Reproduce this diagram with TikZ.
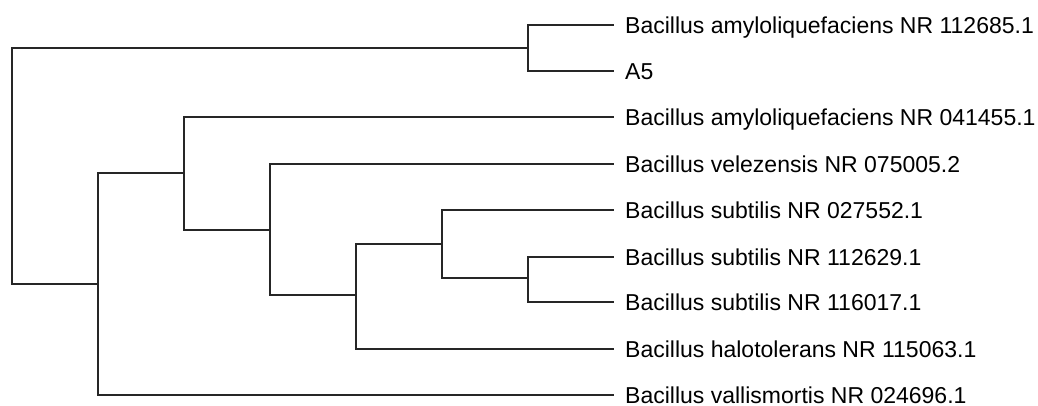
\documentclass[tikz,border=0pt]{standalone}
\usepackage{fontspec}
\setmainfont{Liberation Sans}
\usepackage{tikz}
\usetikzlibrary{positioning}
\tikzset{
x=1pt, y=-1pt, % one unit is one pixel of the figure, y runs downwards
branch/.style={line width=1.8pt, draw=black!85}, % the edges of the tree
leaf/.style={anchor=west, inner ysep=0pt, inner xsep=11pt, text height=20pt, text depth=4pt, font=\fontsize{23}{27}\selectfont}, % the taxon labels
}

\begin{document}
\begin{tikzpicture}
    \useasboundingbox (0,0) rectangle (1038,405);
    % taxa
    \node[leaf] (amyA) at (614,25) {Bacillus amyloliquefaciens NR 112685.1};
    \node[leaf] (a5) at (614,71) {A5};
    \node[leaf] (amyB) at (614,117) {Bacillus amyloliquefaciens NR 041455.1};
    \node[leaf] (vel) at (614,164) {Bacillus velezensis NR 075005.2};
    \node[leaf] (subA) at (614,210) {Bacillus subtilis NR 027552.1};
    \node[leaf] (subB) at (614,257) {Bacillus subtilis NR 112629.1};
    \node[leaf] (subC) at (614,302) {Bacillus subtilis NR 116017.1};
    \node[leaf] (halo) at (614,349) {Bacillus halotolerans NR 115063.1};
    \node[leaf] (vall) at (614,395) {Bacillus vallismortis NR 024696.1};
    % inner nodes
    \coordinate (root) at (12,166);
    \coordinate (n1) at (528,48);
    \coordinate (n2) at (98,284);
    \coordinate (n3) at (184,173);
    \coordinate (n4) at (270,230);
    \coordinate (n5) at (356,295);
    \coordinate (n6) at (442,244);
    \coordinate (n7) at (528,278);
    \draw[branch]
    (root) |- (n1) (root) |- (n2)
    (n1) |- (amyA.west) (n1) |- (a5.west)
    (n2) |- (n3) (n2) |- (vall.west)
    (n3) |- (amyB.west) (n3) |- (n4)
    (n4) |- (vel.west) (n4) |- (n5)
    (n5) |- (n6) (n5) |- (halo.west)
    (n6) |- (subA.west) (n6) |- (n7)
    (n7) |- (subB.west) (n7) |- (subC.west);
\end{tikzpicture}
\end{document}
